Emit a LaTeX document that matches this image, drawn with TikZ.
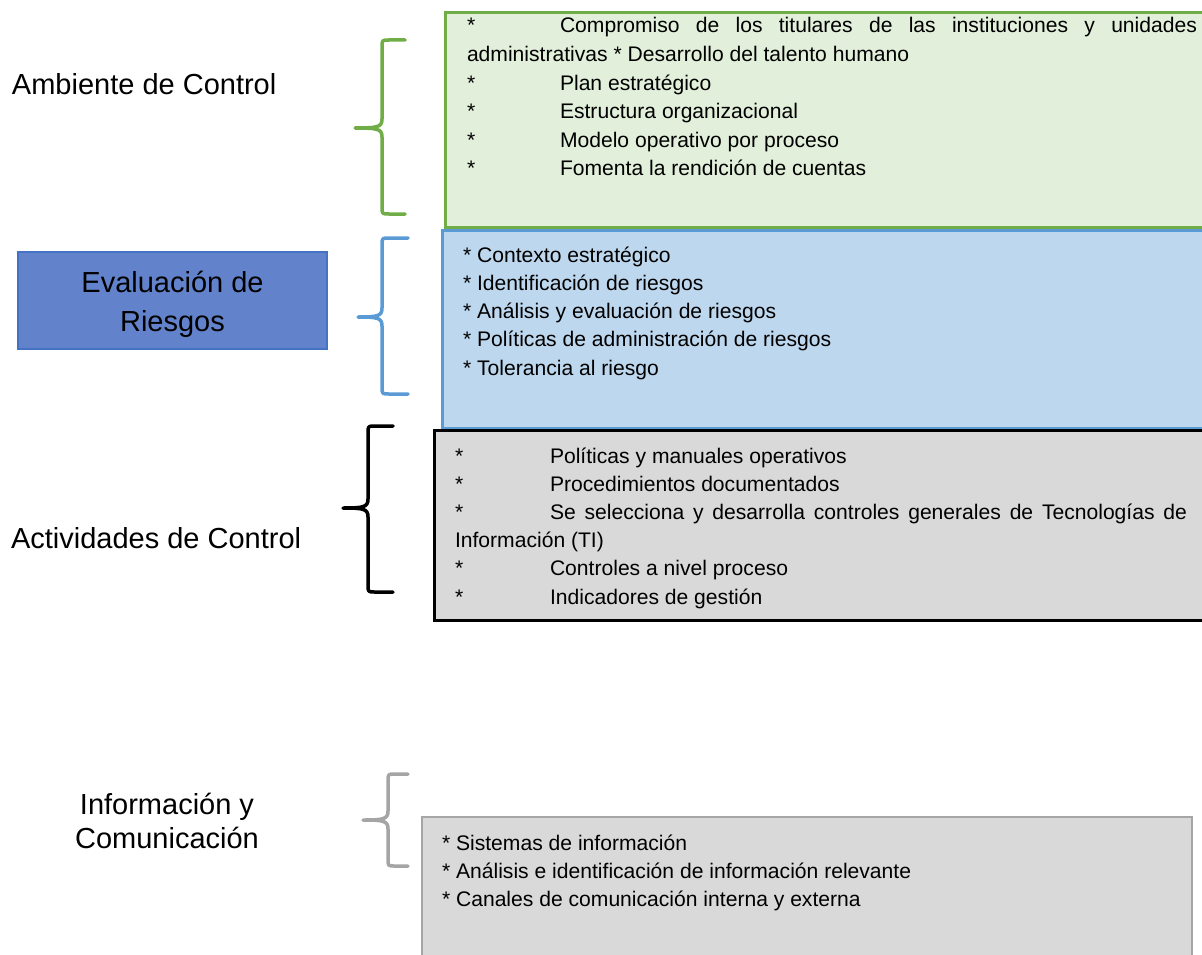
\documentclass[tikz,border=0pt]{standalone}
\usepackage{fontspec}
\setmainfont{Liberation Sans}
\definecolor{grfill}{HTML}{E2EFDA}
\definecolor{grline}{HTML}{70AD47}
\definecolor{blfill}{HTML}{BDD7EE}
\definecolor{blline}{HTML}{5B9BD5}
\definecolor{gyfill}{HTML}{D9D9D9}
\definecolor{gyline}{HTML}{A5A5A5}
\definecolor{evfill}{HTML}{6283CB}
\definecolor{evline}{HTML}{4472C4}
\newcommand\drawbrace[7]{% colour, arm end x, vertical x, tip x, top y, mid y, bottom y
  \draw[bracestyle,#1] (#2,#5) -- ({#3+7},#5) .. controls (#3,#5) .. (#3,{#5+7})
    -- (#3,{#6-9}) .. controls (#3,{#6-1}) and ({#3-4},#6) .. (#4,#6)
    .. controls ({#3-4},#6) and (#3,{#6+1}) .. (#3,{#6+9})
    -- (#3,{#7-7}) .. controls (#3,#7) .. ({#3+7},#7) -- (#2,#7);
}
\newcommand\bodyfont{\fontsize{21.1}{28.6}\selectfont}
\newcommand\bigfont{\fontsize{29}{39}\selectfont}
\begin{document}
\begin{tikzpicture}[x=1pt,y=-1pt,
  panel/.style={anchor=north west,inner sep=0pt,outer sep=0pt,line width=3pt},
  bracestyle/.style={line width=3.5pt,line join=round,line cap=round},
  boxtext/.style={anchor=base west,inner sep=0pt,outer sep=0pt},
  label/.style={inner sep=0pt,outer sep=0pt,font=\bigfont}]
\useasboundingbox (0,0) rectangle (1202,955);

% panels
\node[panel,fill=grfill,draw=grline,minimum width=762pt,minimum height=214pt] (gbox) at (445,13) {};
\node[panel,fill=blfill,draw=blline,minimum width=765pt,minimum height=198pt] (bbox) at (442,230) {};
\node[panel,fill=gyfill,draw=black,minimum width=775pt,minimum height=190pt] (kbox) at (434,430) {};
\node[panel,fill=gyfill,draw=gyline,line width=2.5pt,minimum width=770pt,minimum height=160pt] (ibox) at (422,817) {};
\node[panel,fill=evfill,draw=evline,line width=1.5pt,minimum width=309pt,minimum height=97pt] (evbox) at (18,252) {};

% braces
\drawbrace{grline}{405}{382}{355}{40}{128}{214}
\drawbrace{blline}{408}{382}{358}{238}{317}{394}
\drawbrace{black}{393}{368}{343}{426}{508}{592}
\drawbrace{gyline}{408}{388}{363}{774}{820}{866}

% left labels
\node[label,anchor=base west] (amb) at (12,95) {Ambiente de Control};
\node[label,align=center,yshift=-4pt] (eval) at (evbox.center) {Evaluación de\\Riesgos};
\node[label,anchor=base west] (act) at (11,548) {Actividades de Control};
\node[label,anchor=base,align=center] (info) at (167,814) {\parbox[t]{250pt}{\centering\fontsize{29}{34}\selectfont Información y\\Comunicación}};

% panel texts
\node[boxtext] (gtxt) at (467,33) {\parbox[t]{760pt}{\bodyfont
\makebox[730pt][s]{\makebox[93pt][l]{*}Compromiso de los titulares de las instituciones y unidades}\\
administrativas * Desarrollo del talento humano\\
\makebox[93pt][l]{*}Plan estratégico\\
\makebox[93pt][l]{*}Estructura organizacional\\
\makebox[93pt][l]{*}Modelo operativo por proceso\\
\makebox[93pt][l]{*}Fomenta la rendición de cuentas}};

\node[boxtext] (btxt) at (463,262) {\parbox[t]{700pt}{\fontsize{21.1}{28.3}\selectfont
* Contexto estratégico\\\relax
* Identificación de riesgos\\\relax
* Análisis y evaluación de riesgos\\\relax
* Políticas de administración de riesgos\\\relax
* Tolerancia al riesgo}};

\node[boxtext] (ktxt) at (455,463) {\parbox[t]{760pt}{\fontsize{21.1}{28.2}\selectfont
\makebox[95pt][l]{*}Políticas y manuales operativos\\
\makebox[95pt][l]{*}Procedimientos documentados\\
\makebox[732pt][s]{\makebox[95pt][l]{*}Se selecciona y desarrolla controles generales de Tecnologías de}\\
Información (TI)\\
\makebox[95pt][l]{*}Controles a nivel proceso\\
\makebox[95pt][l]{*}Indicadores de gestión}};

\node[boxtext] (itxt) at (442,850) {\parbox[t]{700pt}{\fontsize{21.1}{28}\selectfont
* Sistemas de información\\\relax
* Análisis e identificación de información relevante\\\relax
* Canales de comunicación interna y externa}};
\end{tikzpicture}
\end{document}
